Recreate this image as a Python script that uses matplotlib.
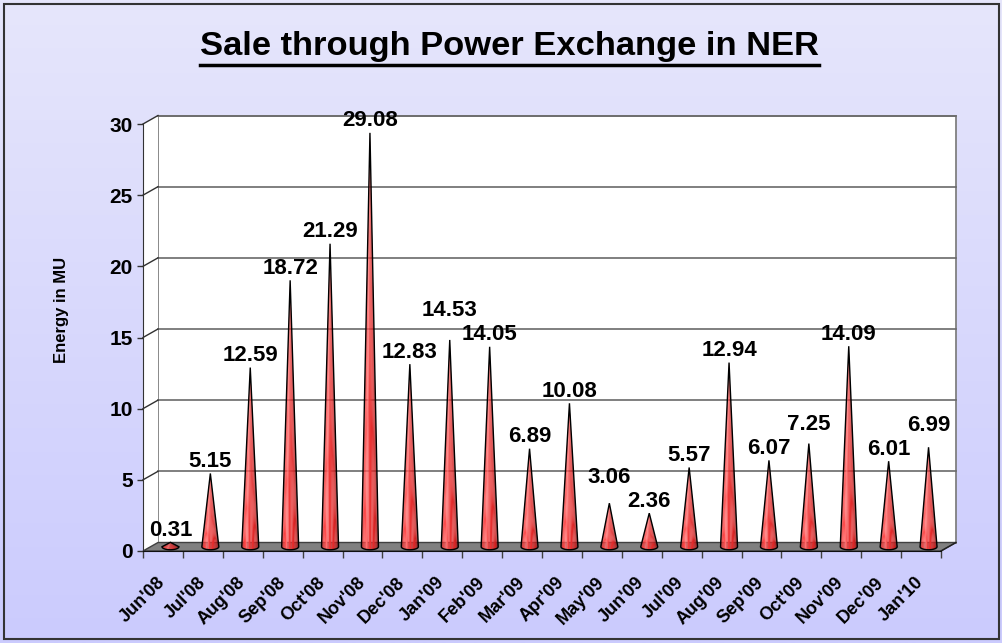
import numpy as np
import matplotlib
matplotlib.use("Agg")
import matplotlib.pyplot as plt
from matplotlib.patches import Polygon, Rectangle
from matplotlib.colors import LinearSegmentedColormap
from matplotlib.lines import Line2D
import matplotlib.transforms as mtransforms

plt.rcParams["font.family"] = ["Liberation Sans", "DejaVu Sans"]

# =====================================
# Data
# =====================================

months = ["Jun'08", "Jul'08", "Aug'08", "Sep'08", "Oct'08", "Nov'08", "Dec'08",
          "Jan'09", "Feb'09", "Mar'09", "Apr'09", "May'09", "Jun'09", "Jul'09",
          "Aug'09", "Sep'09", "Oct'09", "Nov'09", "Dec'09", "Jan'10"]

energy = [0.31, 5.15, 12.59, 18.72, 21.29, 29.08, 12.83, 14.53, 14.05, 6.89,
          10.08, 3.06, 2.36, 5.57, 12.94, 6.07, 7.25, 14.09, 6.01, 6.99]

y_ticks = [0, 5, 10, 15, 20, 25, 30]

title = "Sale through Power Exchange in NER"
y_label = "Energy in MU"

# =====================================
# Figure + background
# =====================================

W, H = 1003, 643
fig = plt.figure(figsize=(W / 100, H / 100), dpi=100)

bg = fig.add_axes([0, 0, 1, 1], zorder=-10)
grad = np.linspace(0, 1, 256).reshape(-1, 1)
bg_cmap = LinearSegmentedColormap.from_list("bg", ["#E6E6FB", "#CBCBFE"])
bg.imshow(grad, aspect="auto", cmap=bg_cmap, extent=[0, 1, 0, 1], origin="upper")
bg.set_xlim(0, 1)
bg.set_ylim(0, 1)
bg.axis("off")

fig.patches.append(Rectangle((4 / W, 4 / H), (W - 8) / W, (H - 8) / H,
                             fill=False, ec="#333333", lw=1.5,
                             transform=fig.transFigure))

# =====================================
# Main axes (front plane of the 3D box)
# =====================================

n = len(months)
x0, x1, y0, y1 = 143, 941, 551, 124
ax = fig.add_axes([x0 / W, (H - y0) / H, (x1 - x0) / W, (y0 - y1) / H])
ax.set_xlim(0, n)
ax.set_ylim(0, 30)
ax.patch.set_visible(False)

px_x = (x1 - x0) / n
px_y = (y0 - y1) / 30.0
dx = 15 / px_x      # depth offset in data units
dy = 8.5 / px_y

for s in ["top", "right"]:
    ax.spines[s].set_visible(False)
ax.spines["left"].set_color("#333333")
ax.spines["bottom"].set_color("#111111")
ax.spines["left"].set_zorder(6)
ax.spines["bottom"].set_zorder(6)

# back wall + side wall
ax.add_patch(Polygon([(dx, dy), (n + dx, dy), (n + dx, 30 + dy), (dx, 30 + dy)],
                     closed=True, fc="white", ec="#808080", lw=1.3,
                     clip_on=False, zorder=1))
ax.add_patch(Polygon([(0, 0), (dx, dy), (dx, 30 + dy), (0, 30)],
                     closed=True, fc="white", ec="none",
                     clip_on=False, zorder=1))

for v in y_ticks[1:]:
    ax.plot([dx, n + dx], [v + dy, v + dy], color="#6A6A6A", lw=1.2,
            clip_on=False, zorder=2)
    ax.plot([0, dx], [v, v + dy], color="#303030", lw=1.0,
            clip_on=False, zorder=2)

# floor
ax.add_patch(Polygon([(0, 0), (n, 0), (n + dx, dy), (dx, dy)],
                     closed=True, fc="#808080", ec="#404040", lw=1.0,
                     clip_on=False, zorder=3))
ax.plot([n, n + dx], [0, dy], color="#202020", lw=1.0, clip_on=False, zorder=3)

# =====================================
# Cones
# =====================================

cone_cmap = LinearSegmentedColormap.from_list(
    "cone",
    [(0.0, "#A01212"), (0.12, "#E02A2A"), (0.30, "#FF4848"),
     (0.38, "#FF7A7A"), (0.45, "#F23A3A"), (0.72, "#D82424"),
     (1.0, "#6E0A0A")])

hw = 8.5 / px_x
hh = 3.0 / px_y
segs = 18
ts = np.linspace(np.pi, 2 * np.pi, segs + 1)

labels = []
for i, v in enumerate(energy):
    xc = i + 0.5 + dx / 2
    yb = dy / 2
    top = v + dy / 2
    arc_x = xc + hw * np.cos(ts)
    arc_y = yb + hh * np.sin(ts)
    for k in range(segs):
        ax.add_patch(Polygon([(xc, top), (arc_x[k], arc_y[k]),
                              (arc_x[k + 1], arc_y[k + 1])],
                             closed=True, fc=cone_cmap((k + 0.5) / segs),
                             ec="none", clip_on=False, zorder=4))
    outline = [(xc, top)] + list(zip(arc_x, arc_y))
    ax.add_patch(Polygon(outline, closed=True, fill=False, ec="black",
                         lw=1.0, clip_on=False, zorder=5))
    lab = ax.annotate(f"{v:.2f}", (xc, top), xytext=(0, 1.0),
                      textcoords="offset points", ha="center", va="bottom",
                      fontsize=16, fontweight="bold", zorder=7,
                      annotation_clip=False)
    labels.append(lab)

# =====================================
# Axis ticks and labels
# =====================================

ax.set_yticks(y_ticks)
ax.set_yticklabels([str(t) for t in y_ticks], fontsize=15, fontweight="bold")
ax.tick_params(axis="y", length=4.5, width=1, color="#333333", pad=3)

ax.set_xticks(range(n + 1))
ax.set_xticklabels([])
ax.tick_params(axis="x", length=5, width=1, color="#404040")

lab_trans = ax.transData + mtransforms.ScaledTranslation(0 / 100, -29 / 100,
                                                         fig.dpi_scale_trans)
for i, m in enumerate(months):
    ax.text(i + 0.5, 0, m, transform=lab_trans, rotation=45,
            rotation_mode="anchor", ha="right", va="center",
            fontsize=13, fontweight="bold")

fig.text(62 / W, (H - 310) / H, y_label, rotation=90, ha="center",
         va="center", fontsize=12, fontweight="bold")

# =====================================
# Title with underline
# =====================================

t = fig.text(510 / W, (H - 46) / H, title, ha="center", va="center",
             fontsize=24.8, fontweight="bold")
fig.canvas.draw()
bb = t.get_window_extent()
uy = (H - 65) / H
fig.lines.append(Line2D([bb.x0 / W, bb.x1 / W], [uy, uy], color="black",
                        lw=2.5, transform=fig.transFigure))

# push up the taller of two neighbouring value labels if they collide
r = fig.canvas.get_renderer()
for i in range(n - 1):
    a, b = labels[i], labels[i + 1]
    ba, bb2 = a.get_window_extent(r), b.get_window_extent(r)
    if ba.overlaps(bb2):
        hi = a if energy[i] >= energy[i + 1] else b
        lo_box = bb2 if hi is a else ba
        hi_box = ba if hi is a else bb2
        shift = lo_box.y1 - hi_box.y0 + 3
        ox, oy = hi.xyann
        hi.xyann = (ox, oy + shift * 72 / 100)

fig.savefig("out.png", dpi=100)
